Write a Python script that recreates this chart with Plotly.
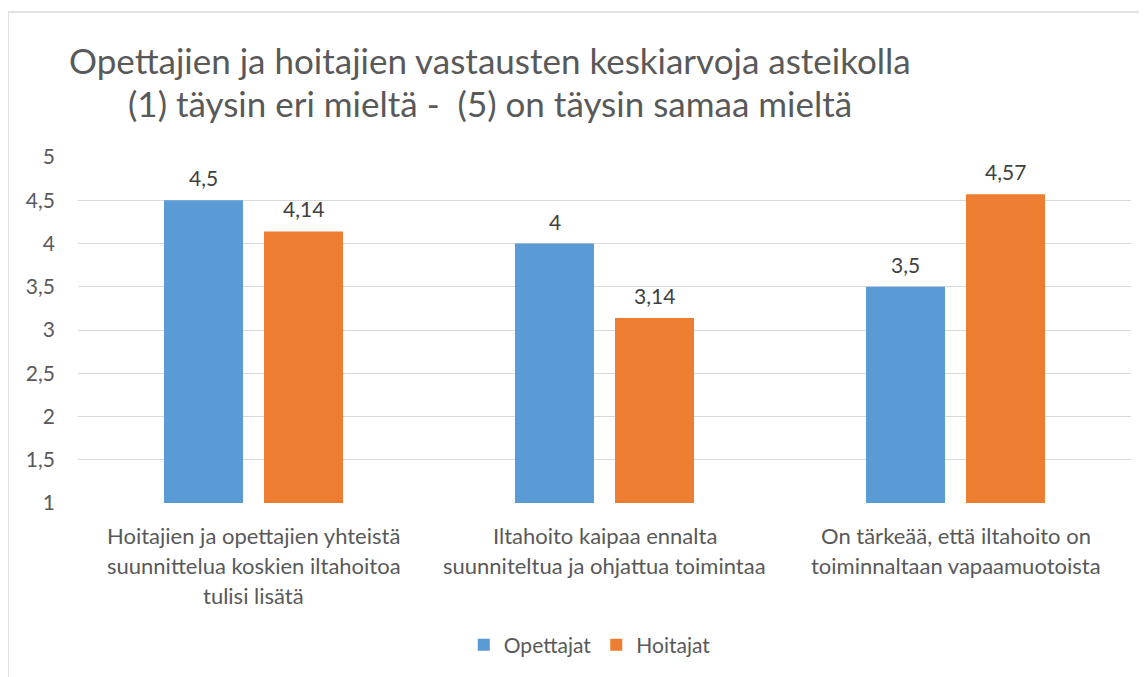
import plotly.graph_objects as go

categories = [
    "Hoitajien ja opettajien yhteistä<br>suunnittelua koskien iltahoitoa<br>tulisi lisätä",
    "Iltahoito kaipaa ennalta<br>suunniteltua ja ohjattua toimintaa",
    "On tärkeää, että iltahoito on<br>toiminnaltaan vapaamuotoista",
]
cat_keys = ["c1", "c2", "c3"]
opettajat = [4.5, 4.0, 3.5]
hoitajat = [4.14, 3.14, 4.57]
opettajat_labels = ["4,5", "4", "3,5"]
hoitajat_labels = ["4,14", "3,14", "4,57"]
y_ticks = [1, 1.5, 2, 2.5, 3, 3.5, 4, 4.5, 5]
y_ticklabels = ["1", "1,5", "2", "2,5", "3", "3,5", "4", "4,5", "5"]
title_lines = [
    "Opettajien ja hoitajien vastausten keskiarvoja asteikolla",
    "(1) täysin eri mieltä -  (5) on täysin samaa mieltä",
]

FONT = "Lato"
TXT = "#595959"
BLUE = "#5B9BD5"
ORANGE = "#ED7D31"
FS = 21

# figure coordinates (page minus 8px body margin)
W, H = 1139, 669
PL, PR, PT, PB = 70, 1123, 149, 495
PW, PH = PR - PL, PB - PT

fig = go.Figure()
fig.add_trace(go.Bar(name="Opettajat", x=cat_keys, y=[v - 1 for v in opettajat], base=1,
                     marker=dict(color=BLUE, line=dict(width=0))))
fig.add_trace(go.Bar(name="Hoitajat", x=cat_keys, y=[v - 1 for v in hoitajat], base=1,
                     marker=dict(color=ORANGE, line=dict(width=0))))

annotations = []
for i, k in enumerate(cat_keys):
    for vals, labs, shift in ((opettajat, opettajat_labels, -50), (hoitajat, hoitajat_labels, 50)):
        annotations.append(dict(x=k, y=vals[i], xref="x", yref="y", text=labs[i], showarrow=False,
                                xshift=shift, yshift=8, yanchor="bottom",
                                font=dict(family=FONT, size=FS, color="#404040")))
    lines = categories[i].split("<br>")
    for j, ln in enumerate(lines):
        annotations.append(dict(x=k, xref="x", y=(-32 - 30 * j) / PH, yref="paper", text=ln,
                                showarrow=False, yanchor="middle",
                                font=dict(family=FONT, size=22, color=TXT)))

for j, ln in enumerate(title_lines):
    annotations.append(dict(x=(490 - 78) / PW, xref="paper", y=(503 - (60 + 43 * j)) / PH, yref="paper",
                            text=ln, showarrow=False, xanchor="center", yanchor="middle",
                            font=dict(family=FONT, size=35, color=TXT)))

fig.update_layout(
    width=W, height=H,
    margin=dict(l=PL, r=W - PR, t=PT, b=H - PB, autoexpand=False),
    paper_bgcolor="white", plot_bgcolor="white",
    separators=",.",
    barmode="group", bargap=0.43, bargroupgap=0.21,
    font=dict(family=FONT, size=FS, color=TXT),
    showlegend=True,
    legend=dict(orientation="h", x=0.486, xanchor="center", y=32 / H, yref="container",
                yanchor="middle", font=dict(family=FONT, size=FS, color=TXT),
                traceorder="normal"),
    annotations=annotations,
    xaxis=dict(showticklabels=False, ticks="", showgrid=False, showline=False, zeroline=False,
               range=[-0.5, 2.5]),
    yaxis=dict(range=[1, 5], tickvals=y_ticks, ticktext=y_ticklabels, showgrid=True,
               gridcolor="#d9d9d9", gridwidth=1, zeroline=False, showline=False, ticks="",
               ticklabelstandoff=22, tickfont=dict(family=FONT, size=FS, color=TXT)),
    shapes=[dict(type="rect", xref="paper", yref="paper",
                 x0=(8 - 78) / PW, x1=2, y0=-2, y1=(503 - 12) / PH,
                 line=dict(color="#d9d9d9", width=1.5), fillcolor="rgba(0,0,0,0)", layer="below")],
)

fig.write_html("out.html")
